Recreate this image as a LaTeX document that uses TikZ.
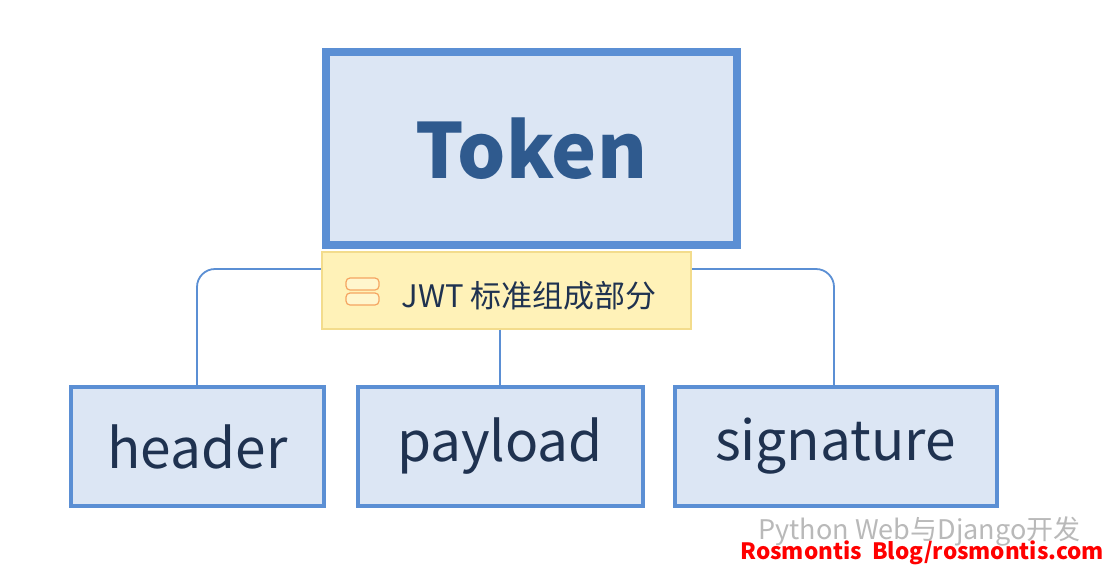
\documentclass[tikz,border=0pt]{standalone}
\usepackage{fontspec}
\setmainfont{Noto Sans CJK SC}
\newfontfamily\cjk{Noto Sans CJK SC}
\definecolor{bd}{HTML}{5B8FD4}
\definecolor{fl}{HTML}{DCE6F4}
\definecolor{tk}{HTML}{2F5A8E}
\definecolor{tx}{HTML}{1F3250}
\definecolor{yl}{HTML}{FFF2B8}
\definecolor{yb}{HTML}{F3DC8C}
\definecolor{ic}{HTML}{F5A561}
\begin{document}
\begin{tikzpicture}[x=1pt,y=-1pt,
  child/.style={draw=bd,line width=4pt,fill=fl,minimum width=253pt,minimum height=119pt,inner sep=0pt,text=tx,font=\fontsize{55}{60}\selectfont},
  conn/.style={draw=bd,line width=1.8pt,rounded corners=18pt}]
\useasboundingbox (0,0) rectangle (1107,571);
\fill[white] (0,0) rectangle (1107,571);
\node[draw=bd,line width=8pt,fill=fl,minimum width=411pt,minimum height=193pt,inner sep=0pt,text=tk,font=\bfseries\fontsize{76}{80}\selectfont] (token) at (531.5,148.5) {Token};
\draw[conn] (322,269) -- (197,269) -- (197,385);
\draw[conn] (691,269) -- (834,269) -- (834,385);
\node[draw=yb,line width=1.2pt,fill=yl,minimum width=369pt,minimum height=77pt,inner sep=0pt] (label) at (506.5,290.5) {};
\node[anchor=west,text=tx,font=\fontsize{31}{34}\selectfont] (lt) at (398,296) {JWT 标准组成部分};
\draw[draw=ic,fill=yl!70!white,line width=1.2pt,rounded corners=4pt] (346,278) rectangle (379,290);
\draw[draw=ic,fill=yl!70!white,line width=1.2pt,rounded corners=4pt] (346,293) rectangle (379,305);
\node[child] (header) at (197.5,446.5) {\raisebox{-6pt}{header}};
\node[child,minimum width=285pt] (payload) at (500,446.5) {\raisebox{-6pt}{payload}};
\node[child,minimum width=322pt] (signature) at (835.5,446.5) {\raisebox{-6pt}{signature}};
\draw[draw=bd,line width=1.8pt] (label.south -| payload.north) -- (payload.north);
\node[anchor=west,text=gray!55,font=\fontsize{27}{30}\selectfont] (wm) at (755,531) {Python Web与Django开发};
\node[anchor=west,text=red,font=\bfseries\fontsize{22.5}{26}\selectfont] (wm2) at (737,553) {Rosmontis\ \ Blog/rosmontis.com};
\end{tikzpicture}
\end{document}
